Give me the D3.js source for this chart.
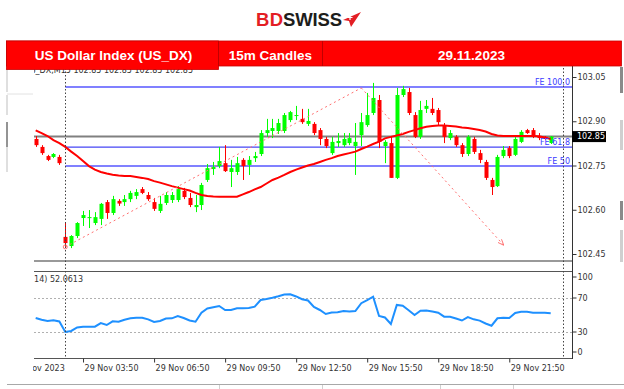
<!DOCTYPE html>
<html>
<head>
<meta charset="utf-8">
<script src="https://cdn.jsdelivr.net/npm/d3@7"></script>
<style>
  html, body { margin: 0; padding: 0; background: #fff; }
  svg { display: block; font-family: "DejaVu Sans", sans-serif; }
</style>
</head>
<body>
<svg id="chart" width="624" height="389"></svg>
<script>
// ---- data (US_DX, M15, 29 Nov 2023, first visible bar 01:50) ----
const firstBar = "01:50";
const opens = [102.840, 102.813, 102.782, 102.779, 102.779, 102.508, 102.477, 102.511, 102.572, 102.572,
  102.555, 102.569, 102.626, 102.589, 102.630, 102.626, 102.636, 102.647, 102.670, 102.650,
  102.626, 102.596, 102.623, 102.633, 102.633, 102.664, 102.640, 102.609, 102.616, 102.701,
  102.738, 102.748, 102.758, 102.728, 102.728, 102.769, 102.752, 102.775, 102.789, 102.860,
  102.867, 102.867, 102.867, 102.904, 102.918, 102.908, 102.891, 102.891, 102.870, 102.840,
  102.792, 102.826, 102.819, 102.826, 102.816, 102.853, 102.887, 102.928, 102.972, 102.816,
  102.826, 102.708, 102.989, 102.999, 102.921, 102.847, 102.942, 102.942, 102.938, 102.887,
  102.843, 102.847, 102.819, 102.789, 102.840, 102.792, 102.762, 102.701, 102.680, 102.782,
  102.809, 102.786, 102.830, 102.870, 102.870, 102.850, 102.847, 102.826];
const highs = [102.850, 102.819, 102.786, 102.792, 102.786, 102.558, 102.514, 102.558, 102.596, 102.599,
  102.592, 102.623, 102.633, 102.647, 102.636, 102.650, 102.664, 102.670, 102.677, 102.660,
  102.640, 102.647, 102.660, 102.660, 102.680, 102.674, 102.657, 102.650, 102.691, 102.755,
  102.762, 102.813, 102.819, 102.769, 102.779, 102.775, 102.782, 102.796, 102.870, 102.908,
  102.908, 102.908, 102.928, 102.935, 102.952, 102.942, 102.942, 102.897, 102.877, 102.847,
  102.847, 102.860, 102.860, 102.860, 102.894, 102.928, 102.996, 103.030, 102.989, 102.836,
  102.850, 103.013, 103.020, 103.013, 102.931, 102.969, 102.972, 102.979, 102.945, 102.894,
  102.870, 102.853, 102.826, 102.853, 102.847, 102.803, 102.769, 102.708, 102.786, 102.816,
  102.816, 102.847, 102.870, 102.874, 102.877, 102.860, 102.850, 102.850];
const lows = [102.813, 102.786, 102.765, 102.775, 102.752, 102.474, 102.470, 102.504, 102.545, 102.538,
  102.548, 102.548, 102.569, 102.582, 102.613, 102.613, 102.626, 102.636, 102.653, 102.630,
  102.596, 102.589, 102.616, 102.623, 102.626, 102.636, 102.609, 102.592, 102.599, 102.694,
  102.718, 102.741, 102.728, 102.677, 102.718, 102.701, 102.718, 102.762, 102.782, 102.847,
  102.843, 102.857, 102.860, 102.897, 102.904, 102.891, 102.884, 102.853, 102.819, 102.809,
  102.786, 102.813, 102.813, 102.819, 102.718, 102.816, 102.881, 102.921, 102.809, 102.758,
  102.708, 102.704, 102.982, 102.921, 102.843, 102.840, 102.928, 102.921, 102.887, 102.826,
  102.836, 102.813, 102.779, 102.782, 102.789, 102.758, 102.701, 102.650, 102.677, 102.775,
  102.775, 102.782, 102.826, 102.857, 102.843, 102.836, 102.836, 102.823];
const closes = [102.819, 102.792, 102.769, 102.789, 102.758, 102.487, 102.511, 102.555, 102.582, 102.575,
  102.575, 102.620, 102.589, 102.636, 102.621, 102.636, 102.657, 102.660, 102.657, 102.636,
  102.603, 102.620, 102.650, 102.650, 102.670, 102.643, 102.616, 102.616, 102.684, 102.741,
  102.745, 102.765, 102.731, 102.741, 102.758, 102.748, 102.769, 102.782, 102.860, 102.870,
  102.877, 102.894, 102.921, 102.931, 102.921, 102.897, 102.901, 102.860, 102.840, 102.816,
  102.830, 102.833, 102.840, 102.843, 102.830, 102.897, 102.921, 102.979, 102.830, 102.830,
  102.708, 102.989, 103.009, 102.928, 102.847, 102.938, 102.952, 102.928, 102.897, 102.847,
  102.860, 102.819, 102.789, 102.847, 102.796, 102.769, 102.708, 102.677, 102.779, 102.803,
  102.782, 102.840, 102.864, 102.860, 102.847, 102.843, 102.840, 102.848];
const maValues = [102.869, 102.860, 102.850, 102.836, 102.826, 102.813, 102.797, 102.782, 102.765, 102.748,
  102.736, 102.728, 102.723, 102.719, 102.716, 102.714, 102.714, 102.711, 102.708, 102.704,
  102.697, 102.692, 102.686, 102.680, 102.675, 102.670, 102.665, 102.657, 102.650, 102.647,
  102.645, 102.644, 102.644, 102.644, 102.644, 102.652, 102.660, 102.669, 102.677, 102.689,
  102.701, 102.709, 102.718, 102.728, 102.736, 102.743, 102.750, 102.755, 102.762, 102.769,
  102.775, 102.782, 102.787, 102.792, 102.797, 102.806, 102.814, 102.823, 102.831, 102.842,
  102.847, 102.852, 102.857, 102.864, 102.870, 102.876, 102.881, 102.884, 102.886, 102.886,
  102.884, 102.882, 102.879, 102.877, 102.874, 102.870, 102.865, 102.857, 102.852, 102.850,
  102.850, 102.850, 102.850, 102.850, 102.850, 102.849, 102.845, 102.840];
const rsiValues = [46.5, 44.4, 42.9, 43.8, 42.4, 30.0, 31.2, 35.3, 36.2, 36.2,
  36.2, 40.4, 38.2, 42.6, 42.1, 44.4, 46.1, 46.8, 46.8, 44.9,
  41.8, 42.9, 45.9, 46.1, 48.8, 46.5, 43.5, 42.1, 52.6, 57.6,
  59.1, 60.6, 55.9, 55.9, 57.9, 57.9, 58.2, 59.8, 67.6, 68.8,
  70.2, 72.0, 74.1, 74.4, 71.8, 68.5, 67.1, 59.4, 55.9, 51.2,
  52.9, 53.2, 54.7, 54.0, 54.7, 63.9, 67.6, 71.5, 48.8, 47.1,
  39.4, 61.8, 60.8, 55.6, 50.0, 55.1, 55.4, 54.1, 52.7, 48.0,
  48.0, 45.8, 43.5, 47.6, 44.9, 43.4, 40.0, 37.4, 46.1, 46.9,
  46.5, 52.4, 53.8, 53.8, 52.7, 52.7, 52.7, 52.06];

const priceTicks = [102.45, 102.60, 102.75, 102.90, 103.05];
const rsiTicks = [0, 30, 70, 100];
const rsiLevels = [30, 70];
const timeTickTimes = ["00:50", "03:50", "06:50", "09:50", "12:50", "15:50", "18:50", "21:50"];
const timeTickLabels = ["29 Nov 2023", "29 Nov 03:50", "29 Nov 06:50", "29 Nov 09:50",
  "29 Nov 12:50", "29 Nov 15:50", "29 Nov 18:50", "29 Nov 21:50"];
const feLevels = [
  { label: "FE 100.0", value: 103.016, strong: false },
  { label: "FE 61.8", value: 102.812, strong: true },
  { label: "FE 50", value: 102.748, strong: false }
];
const fePoints = [
  { time: "03:05", price: 102.474 },
  { time: "15:35", price: 103.013 },
  { time: "21:35", price: 102.481 }
];
const vLineTimes = ["03:05", "24:05"];
const lastPrice = 102.848;
const topInfo = "US_DX,M15 102.85 102.85 102.85 102.85";
const rsiInfo = "RSI(14) 52.0613";
const headerCells = ["US Dollar Index (US_DX)", "15m Candles", "29.11.2023"];

// ---- helpers ----
const BULL = "#00ff00", BEAR = "#ff0000";
const at = s => { const [h, m] = s.split(":"); return new Date(2023, 10, 29, +h, +m); };
const STEP = 15 * 60 * 1000;
const start = at(firstBar);
const bars = opens.map((o, i) => ({
  t: new Date(start.getTime() + i * STEP),
  o, h: highs[i], l: lows[i], c: closes[i], ma: maValues[i], rsi: rsiValues[i]
}));

const svg = d3.select("#chart");

// ---- scales ----
const PLOT_L = 34, PLOT_R = 572;
const x = d3.scaleTime().domain([at("00:50"), at("21:50")]).range([12, 12 + 84 * 5.92]);
const y = d3.scaleLinear().domain([102.45, 103.05]).range([254, 77]);
const yR = d3.scaleLinear().domain([0, 100]).range([357.5, 272.5]);

const defs = svg.append("defs");
defs.append("clipPath").attr("id", "clipMain").append("rect")
  .attr("x", PLOT_L).attr("y", 66).attr("width", PLOT_R - PLOT_L).attr("height", 195);
defs.append("clipPath").attr("id", "clipRsi").append("rect")
  .attr("x", PLOT_L).attr("y", 272).attr("width", PLOT_R - PLOT_L).attr("height", 86);
defs.append("clipPath").attr("id", "clipAxis").append("rect")
  .attr("x", 33).attr("y", 355).attr("width", 560).attr("height", 30);
defs.append("marker").attr("id", "arrowPink")
  .attr("viewBox", "0 -5 10 10").attr("refX", 9).attr("refY", 0)
  .attr("markerWidth", 6).attr("markerHeight", 6).attr("orient", "auto")
  .append("path").attr("d", "M0,-4L10,0L0,4").attr("fill", "none").attr("stroke", "#ff7070").attr("stroke-width", 1.5);

// ---- window fragments around the crop ----
const frame = svg.append("g");
[[68, 92, "#d4d4d4"], [95, 115, "#d4d4d4"], [122, 147, "#707070"], [147, 172, "#d4d4d4"]].forEach(([a, b, c]) => {
  frame.append("line").attr("x1", 7).attr("x2", 7).attr("y1", a).attr("y2", b).attr("stroke", c).attr("stroke-width", 1.5);
});
frame.append("line").attr("x1", 7).attr("x2", 33).attr("y1", 94).attr("y2", 94).attr("stroke", "#e2e2e2");
[[67, 93, "#8a8a8a"], [120, 150, "#cfcfcf"], [201, 220, "#8a8a8a"], [230, 262, "#cfcfcf"]].forEach(([a, b, c]) => {
  frame.append("rect").attr("x", 620).attr("y", a).attr("width", 3).attr("height", b - a).attr("fill", c);
});
frame.append("line").attr("x1", 7).attr("x2", 624).attr("y1", 384.5).attr("y2", 384.5).attr("stroke", "#a8a8a8");
[219, 322, 440, 513].forEach(px => {
  frame.append("line").attr("x1", px + 0.5).attr("x2", px + 0.5).attr("y1", 385).attr("y2", 389).attr("stroke", "#d0d0d0");
});

// ---- main panel ----
svg.append("text").attr("clip-path", "url(#clipMain)")
  .attr("x", 193).attr("y", 73).attr("text-anchor", "end")
  .attr("font-size", 8).attr("fill", "#333").text(topInfo);

const main = svg.append("g").attr("clip-path", "url(#clipMain)");

main.selectAll("line.fe").data(feLevels).enter().append("line")
  .attr("x1", x(at(fePoints[0].time))).attr("x2", PLOT_R)
  .attr("y1", d => y(d.value)).attr("y2", d => y(d.value))
  .attr("stroke", d => d.strong ? "#4646f5" : "#8080ff")
  .attr("stroke-width", d => d.strong ? 1.2 : 2);

main.append("line").attr("x1", PLOT_L).attr("x2", PLOT_R)
  .attr("y1", y(lastPrice)).attr("y2", y(lastPrice))
  .attr("stroke", "#808080").attr("stroke-width", 2);

const candle = main.append("g").selectAll("g").data(bars).enter().append("g")
  .attr("transform", d => `translate(${Math.round(x(d.t))},0)`);
candle.append("line")
  .attr("x1", 0.5).attr("x2", 0.5)
  .attr("y1", d => y(d.h)).attr("y2", d => y(d.l))
  .attr("stroke", d => d.c >= d.o ? BULL : BEAR);
candle.append("rect")
  .attr("x", -1.5).attr("width", 4)
  .attr("y", d => y(Math.max(d.o, d.c)))
  .attr("height", d => Math.max(1, Math.abs(y(d.o) - y(d.c))))
  .attr("fill", d => d.c >= d.o ? BULL : BEAR);

main.append("path").datum(bars)
  .attr("fill", "none").attr("stroke", "#ff0000").attr("stroke-width", 2)
  .attr("d", d3.line().x(d => x(d.t)).y(d => y(d.ma)));

const fe = fePoints.map(p => [x(at(p.time)), y(p.price)]);
main.append("line").attr("x1", fe[0][0]).attr("y1", fe[0][1]).attr("x2", fe[1][0]).attr("y2", fe[1][1])
  .attr("stroke", "#ff7070").attr("stroke-dasharray", "2,3");
main.append("line").attr("x1", fe[1][0]).attr("y1", fe[1][1]).attr("x2", fe[2][0]).attr("y2", fe[2][1])
  .attr("stroke", "#ff7070").attr("stroke-dasharray", "2,3").attr("marker-end", "url(#arrowPink)");
main.append("circle").attr("cx", fe[0][0]).attr("cy", fe[0][1]).attr("r", 2)
  .attr("fill", "none").attr("stroke", "#ff7070");

main.selectAll("text.fe").data(feLevels).enter().append("text")
  .attr("x", PLOT_R - 2).attr("y", d => y(d.value) - 2.5)
  .attr("text-anchor", "end").attr("font-size", 8).attr("fill", "#3c3cff")
  .text(d => d.label);

svg.append("line").attr("x1", PLOT_L).attr("x2", PLOT_R).attr("y1", 261).attr("y2", 261)
  .attr("stroke", "#999").attr("stroke-width", 2);

// ---- RSI panel ----
svg.append("line").attr("x1", PLOT_L).attr("x2", PLOT_R).attr("y1", 271.5).attr("y2", 271.5).attr("stroke", "#555");
svg.append("line").attr("x1", PLOT_L).attr("x2", PLOT_R).attr("y1", 358.5).attr("y2", 358.5).attr("stroke", "#555");
const rsiG = svg.append("g").attr("clip-path", "url(#clipRsi)");
rsiG.selectAll("line.lvl").data(rsiLevels).enter().append("line")
  .attr("x1", PLOT_L).attr("x2", PLOT_R)
  .attr("y1", d => Math.round(yR(d)) + 0.5).attr("y2", d => Math.round(yR(d)) + 0.5)
  .attr("stroke", "#b0b0b0").attr("stroke-dasharray", "2,2");
rsiG.append("path").datum(bars)
  .attr("fill", "none").attr("stroke", "#1e90ff").attr("stroke-width", 2)
  .attr("d", d3.line().x(d => x(d.t)).y(d => yR(d.rsi)));
rsiG.append("text").attr("x", 83).attr("y", 282).attr("text-anchor", "end")
  .attr("font-size", 8).attr("fill", "#333").text(rsiInfo);

// ---- period separators ----
svg.selectAll("line.vsep").data(vLineTimes).enter().append("line")
  .attr("x1", d => Math.round(x(at(d))) + 0.5).attr("x2", d => Math.round(x(at(d))) + 0.5)
  .attr("y1", 68).attr("y2", 358)
  .attr("stroke", "#444").attr("stroke-dasharray", "1.5,2");

// ---- axes ----
svg.append("line").attr("x1", PLOT_R + 0.5).attr("x2", PLOT_R + 0.5).attr("y1", 66).attr("y2", 359).attr("stroke", "#333");

const yAxis = svg.append("g").attr("transform", `translate(${PLOT_R + 0.5},0)`)
  .call(d3.axisRight(y).tickValues(priceTicks).tickFormat(d3.format(".2f")).tickSize(4).tickPadding(1))
  .attr("font-size", 8).attr("font-family", null);
yAxis.select(".domain").remove();
yAxis.selectAll("line").attr("stroke", "#333");
yAxis.selectAll("text").attr("fill", "#333");

const clampR = v => Math.max(277, Math.min(352, yR(v)));
const rAxis = svg.append("g").attr("transform", `translate(${PLOT_R + 0.5},0)`)
  .call(d3.axisRight(yR).tickValues(rsiTicks).tickSize(4).tickPadding(1))
  .attr("font-size", 8).attr("font-family", null);
rAxis.select(".domain").remove();
rAxis.selectAll(".tick").attr("transform", d => `translate(0,${clampR(d)})`);
rAxis.selectAll("line").attr("stroke", "#333");
rAxis.selectAll("text").attr("fill", "#333");

const last = svg.append("g").attr("transform", `translate(${PLOT_R},${y(lastPrice)})`);
last.append("rect").attr("x", 0).attr("y", -5.5).attr("width", 34).attr("height", 11).attr("fill", "#000");
last.append("text").attr("x", 5).attr("dy", "0.33em").attr("font-size", 8).attr("fill", "#fff")
  .text(d3.format(".2f")(lastPrice));

const xAxis = svg.append("g").attr("clip-path", "url(#clipAxis)")
  .append("g").attr("transform", "translate(0,358.5)")
  .call(d3.axisBottom(x).tickValues(timeTickTimes.map(at)).tickSize(4).tickPadding(2.5)
    .tickFormat((d, i) => timeTickLabels[i]))
  .attr("font-size", 8).attr("font-family", null);
xAxis.select(".domain").remove();
xAxis.selectAll("line").attr("stroke", "#333");
xAxis.selectAll("text").attr("text-anchor", "start").attr("x", 1).attr("fill", "#333");

// ---- header and logo ----
const head = svg.append("g");
head.append("rect").attr("x", 6.5).attr("y", 41).attr("width", 615).attr("height", 25)
  .attr("fill", "#ff0000").attr("stroke", "#c80000").attr("stroke-width", 0.8);
head.append("rect").attr("x", 6.5).attr("y", 41).attr("width", 212).attr("height", 28.5)
  .attr("fill", "#ff0000").attr("stroke", "#c80000").attr("stroke-width", 0.8);
[218.5, 322.5].forEach(px => head.append("line").attr("x1", px).attr("x2", px).attr("y1", 41).attr("y2", 66)
  .attr("stroke", "#c00000"));
head.selectAll("text").data(headerCells).enter().append("text")
  .attr("x", (d, i) => [113.5, 270.5, 471.5][i]).attr("y", 60)
  .attr("text-anchor", "middle").attr("fill", "#fff")
  .attr("font-family", "'Liberation Sans', Arial, sans-serif").attr("font-weight", "bold").attr("font-size", 13.5)
  .text(d => d);

const logo = svg.append("g").attr("font-family", "'Liberation Sans', Arial, sans-serif")
  .attr("font-weight", "bold").attr("font-size", 18.5);
logo.append("text").attr("x", 256).attr("y", 26).attr("fill", "#e31e24").attr("textLength", 27).text("BD");
logo.append("text").attr("x", 283).attr("y", 26).attr("fill", "#1d1d1b").attr("textLength", 59).text("SWISS");
logo.append("path").attr("d", "M343,20 L361,12 L351,27 L349,21 Z").attr("fill", "#e31e24");
logo.append("path").attr("d", "M350,15 L350,20 M347.5,17.5 L352.5,17.5").attr("stroke", "#fff").attr("stroke-width", 1.2);
</script>
</body>
</html>
